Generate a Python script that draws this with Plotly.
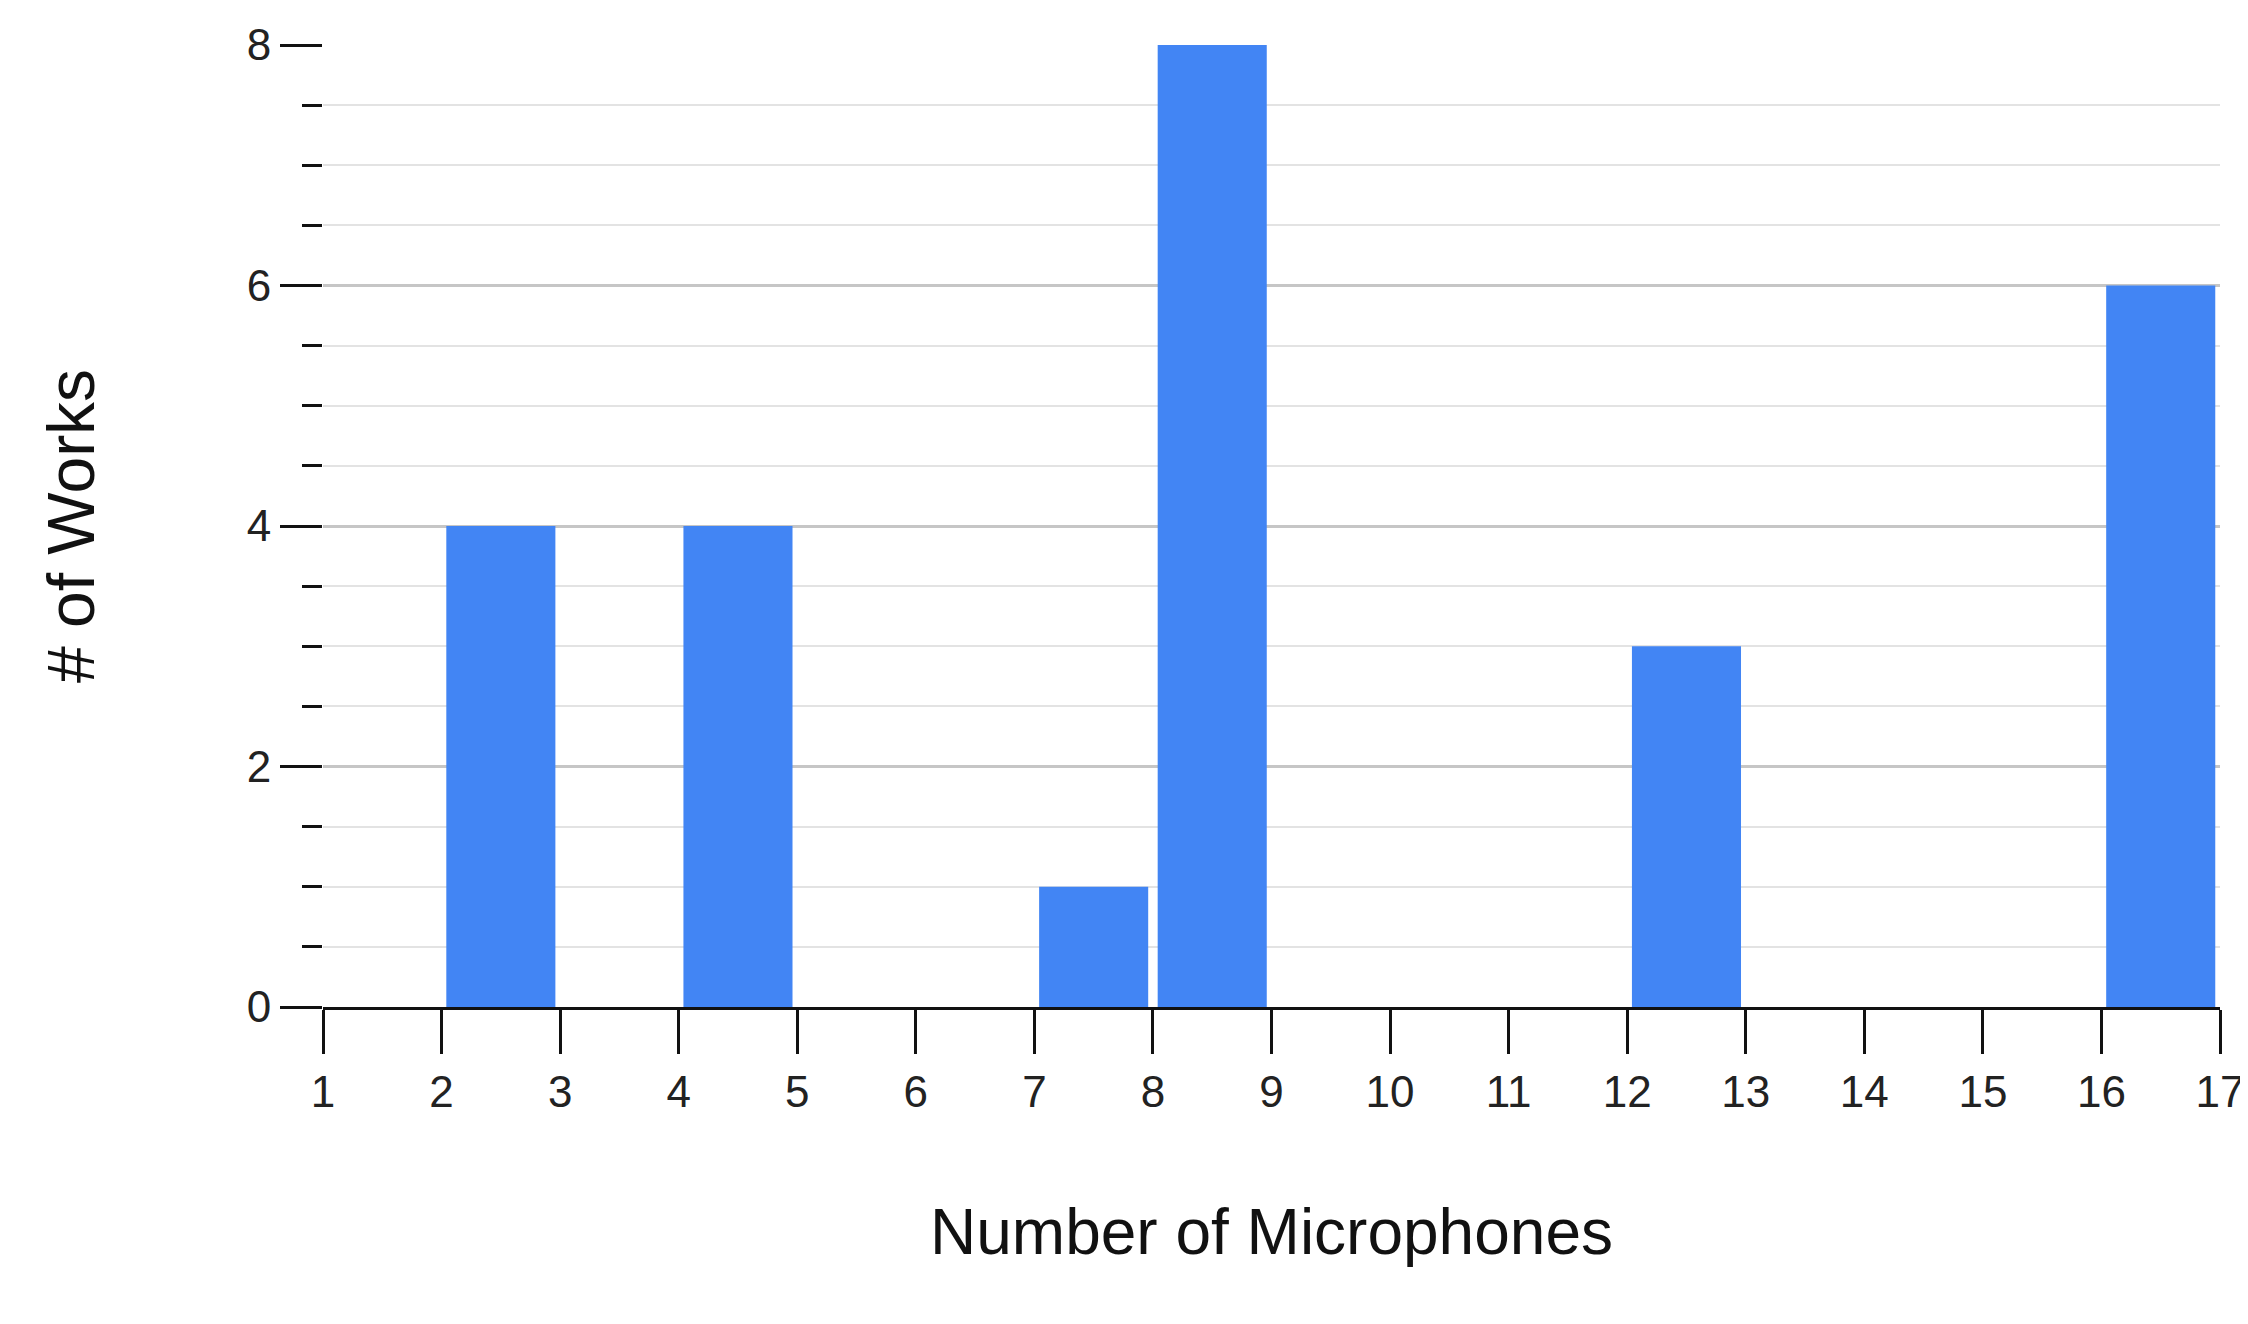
import plotly.graph_objects as go

bin_starts = [2, 4, 7, 8, 12, 16]
counts = [4, 4, 1, 8, 3, 6]
x_ticks = list(range(1, 18))

fig = go.Figure(go.Bar(
    x=[s + 0.5 for s in bin_starts], y=counts, width=0.92,
    marker=dict(color="#4285F4", line=dict(width=0)),
))
fig.update_layout(
    width=2248, height=1324, plot_bgcolor="white", paper_bgcolor="white",
    margin=dict(l=315, r=33, t=29, b=325),
    font=dict(family="Arial, Liberation Sans", color="#222", size=44),
    showlegend=False,
)
fig.update_xaxes(
    range=[1, 17], tickvals=x_ticks, ticktext=[str(v) for v in x_ticks],
    ticks="outside", ticklen=44, tickwidth=3, tickcolor="#111",
    showline=True, linecolor="#111", linewidth=3, showgrid=False, zeroline=False,
    title=dict(text="Number of Microphones", font=dict(size=64, color="#111"), standoff=95),
)
fig.update_yaxes(
    range=[0, 8], tickvals=[0, 2, 4, 6, 8], ticks="outside", ticklen=42, tickwidth=3,
    tickcolor="#111", showgrid=True, gridcolor="#c6c6c6", gridwidth=3, zeroline=False,
    minor=dict(dtick=0.5, ticks="outside", ticklen=20, tickwidth=3, tickcolor="#111",
               showgrid=True, gridcolor="#e3e3e3", gridwidth=2),
    title=dict(text="# of Works", font=dict(size=66, color="#111"), standoff=130),
)
fig.write_html("out.html")
